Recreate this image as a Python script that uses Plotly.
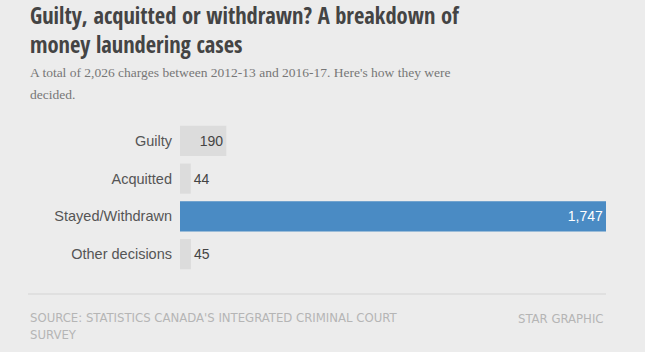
import plotly.graph_objects as go

categories = ["Guilty", "Acquitted", "Stayed/Withdrawn", "Other decisions"]
values = [190, 44, 1747, 45]
bar_colors = ["#dcdcdc", "#dcdcdc", "#4a8bc4", "#dcdcdc"]
text_positions = ["inside", "outside", "inside", "outside"]
text_colors = ["#444444", "#444444", "#ffffff", "#444444"]

W, H = 645, 352
L, R, T, B = 180, 39, 122, 79
PW, PH = W - L - R, H - T - B


def px(x):
    return (x - L) / PW


def py(y):
    return (H - B - y) / PH


fig = go.Figure(go.Bar(
    y=categories, x=values, orientation="h",
    marker=dict(color=bar_colors, line=dict(width=0)),
    text=[f"{v:,}" for v in values],
    textposition=text_positions,
    textfont=dict(family="Liberation Sans, Arial, sans-serif", size=14, color=text_colors),
    insidetextanchor="end",
    cliponaxis=False,
    hoverinfo="skip",
))

cond = "Open Sans Condensed, Roboto Condensed, Liberation Sans Narrow, DejaVu Sans Condensed, Open Sans"
serif = "Liberation Serif, Georgia, serif"
src_font = dict(family="Liberation Sans Narrow, DejaVu Sans Condensed, Open Sans", size=13, color="#b5b5b5")
annotations = [
    dict(text="<b>Guilty, acquitted or withdrawn? A breakdown of</b><br><b>money laundering cases</b>",
         x=px(28), y=py(30), font=dict(family=cond, size=22.5, color="#444444")),
    dict(text="A total of 2,026 charges between 2012-13 and 2016-17. Here's how they were",
         x=px(28), y=py(72), font=dict(family=serif, size=13.5, color="#777777")),
    dict(text="decided.", x=px(28), y=py(94.5),
         font=dict(family=serif, size=13.5, color="#777777")),
    dict(text="SOURCE: STATISTICS CANADA'S INTEGRATED CRIMINAL COURT<br>SURVEY", x=px(28), y=py(325.5),
         font=src_font),
]
for a in annotations:
    a.update(xref="paper", yref="paper", xanchor="left", yanchor="middle", showarrow=False, align="left")
annotations.append(dict(text="STAR GRAPHIC", x=px(606), y=py(318), xref="paper", yref="paper",
                        xanchor="right", yanchor="middle", showarrow=False, font=src_font))

fig.update_layout(
    width=W, height=H,
    margin=dict(l=L, r=R, t=T, b=B, pad=0),
    paper_bgcolor="#ececec", plot_bgcolor="#ececec",
    bargap=0.2,
    showlegend=False,
    xaxis=dict(visible=False, range=[0, max(values)], fixedrange=True),
    yaxis=dict(autorange="reversed", showgrid=False, zeroline=False, showline=False,
               ticks="", ticklabelstandoff=7,
               tickfont=dict(family="Liberation Sans, Arial, sans-serif", size=14.5, color="#555555")),
    annotations=annotations,
    shapes=[dict(type="line", xref="paper", yref="paper", x0=px(28), x1=px(606),
                 y0=py(294), y1=py(294), line=dict(color="#d4d4d4", width=1))],
)

fig.write_html("out.html")
